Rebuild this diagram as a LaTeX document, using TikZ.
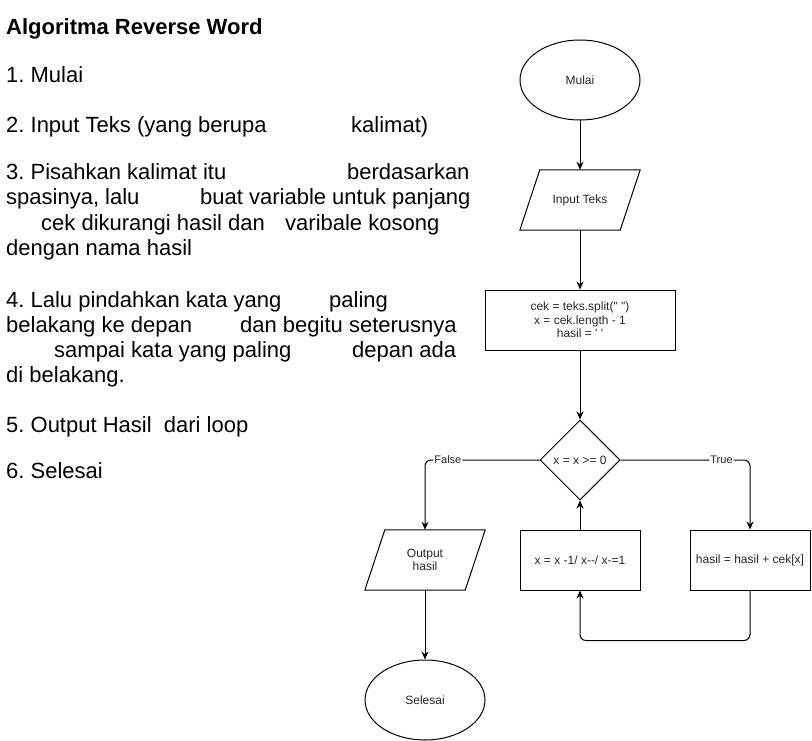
\documentclass[tikz,border=0pt]{standalone}
\usepackage{fontspec}
\setmainfont{Liberation Sans}
\newfontfamily\lsans{Liberation Sans}
\usetikzlibrary{arrows.meta,calc,shapes.geometric}
\frenchspacing
\begin{document}
\begin{tikzpicture}[x=1pt,y=-1pt,
  every node/.style={font=\lsans\fontsize{12}{13.5}\selectfont, text=black!85},
  txt/.style={anchor=base west, inner sep=0pt, font=\lsans\fontsize{22}{25}\selectfont, text=black},
  term/.style={ellipse, draw, line width=1pt, minimum width=120pt, minimum height=80pt, inner sep=0pt},
  proc/.style={rectangle, draw, line width=1pt, minimum height=60pt, align=center, inner sep=0pt},
  iobody/.style={rectangle, minimum width=100pt, minimum height=60pt, align=center, inner sep=0pt},
  iopath/.style={line width=1pt, line join=miter},
  dec/.style={diamond, draw, line width=1pt, minimum width=80pt, minimum height=80pt, inner sep=0pt, aspect=1},
  conn/.style={line width=1pt, rounded corners=6pt, -{Stealth[length=8pt,width=7pt]}},
  lbl/.style={fill=white, inner sep=1pt, font=\lsans\fontsize{11}{12}\selectfont}
]
\useasboundingbox (0,0) rectangle (812,741);

% left text
\node[txt, font=\lsans\fontsize{22}{25}\selectfont\bfseries] (title) at (6,35) {Algoritma Reverse Word};
\node[txt] (t1) at (6,83) {1. Mulai};
\node[txt] (t2a) at (6,132.5) {2. Input Teks (yang berupa};
\node[txt] (t2b) at (351,132.5) {kalimat)};
\node[txt] (t3a) at (6,180) {3. Pisahkan kalimat itu};
\node[txt] (t3b) at (347,180) {berdasarkan};
\node[txt] (t3c) at (6,205) {spasinya, lalu};
\node[txt] (t3d) at (200,205) {buat variable untuk panjang};
\node[txt] (t3e) at (41,230) {cek dikurangi hasil dan};
\node[txt] (t3f) at (285,230) {varibale kosong};
\node[txt] (t3g) at (6,255) {dengan nama hasil};
\node[txt] (t4a) at (6,307) {4. Lalu pindahkan kata yang};
\node[txt] (t4b) at (329,307) {paling};
\node[txt] (t4c) at (6,332) {belakang ke depan};
\node[txt] (t4d) at (240,332) {dan begitu seterusnya};
\node[txt] (t4e) at (54,357) {sampai kata yang paling};
\node[txt] (t4f) at (352,357) {depan ada};
\node[txt] (t4g) at (6,382) {di belakang.};
\node[txt] (t5) at (6,432) {5. Output Hasil\ \ dari loop};
\node[txt] (t6) at (6,478) {6. Selesai};

% flowchart
\node[term] (mulai) at (580,80) {Mulai};
\node[iobody] (inp) at (580,200) {Input Teks};
\draw[iopath] ($(inp.north west)+(10,0)$) -- ($(inp.north east)+(10,0)$) -- ($(inp.south east)+(-10,0)$) -- ($(inp.south west)+(-10,0)$) -- cycle;
\node[proc, minimum width=190pt] (proc) at (580,320) {cek = teks.split(" ")\\x = cek.length - 1\\hasil = ' '};
\node[dec] (d) at (580,460) {x = x >= 0};
\node[iobody] (out) at (425,560) {Output\\hasil};
\draw[iopath] ($(out.north west)+(10,0)$) -- ($(out.north east)+(10,0)$) -- ($(out.south east)+(-10,0)$) -- ($(out.south west)+(-10,0)$) -- cycle;
\node[proc, minimum width=120pt] (decr) at (580,560) {x = x -1/ x-{}-/ x-=1};
\node[proc, minimum width=120pt] (has) at (750,560) {hasil = hasil + cek[x]};
\node[term] (selesai) at (425,700) {Selesai};

\draw[conn] (mulai.south) -- (inp.north);
\draw[conn] (inp.south) -- (proc.north);
\draw[conn] (proc.south) -- (d.north);
\draw[conn] (d.west) -| node[lbl, pos=0.40] (lf) {False} (out.north);
\draw[conn] (d.east) -| node[lbl, pos=0.39] (lt) {True} (has.north);
\draw[conn] (decr.north) -- (d.south);
\draw[conn] (has.south) -- ++(0,50) -| (decr.south);
\draw[conn] (out.south) -- (selesai.north);
\end{tikzpicture}
\end{document}
